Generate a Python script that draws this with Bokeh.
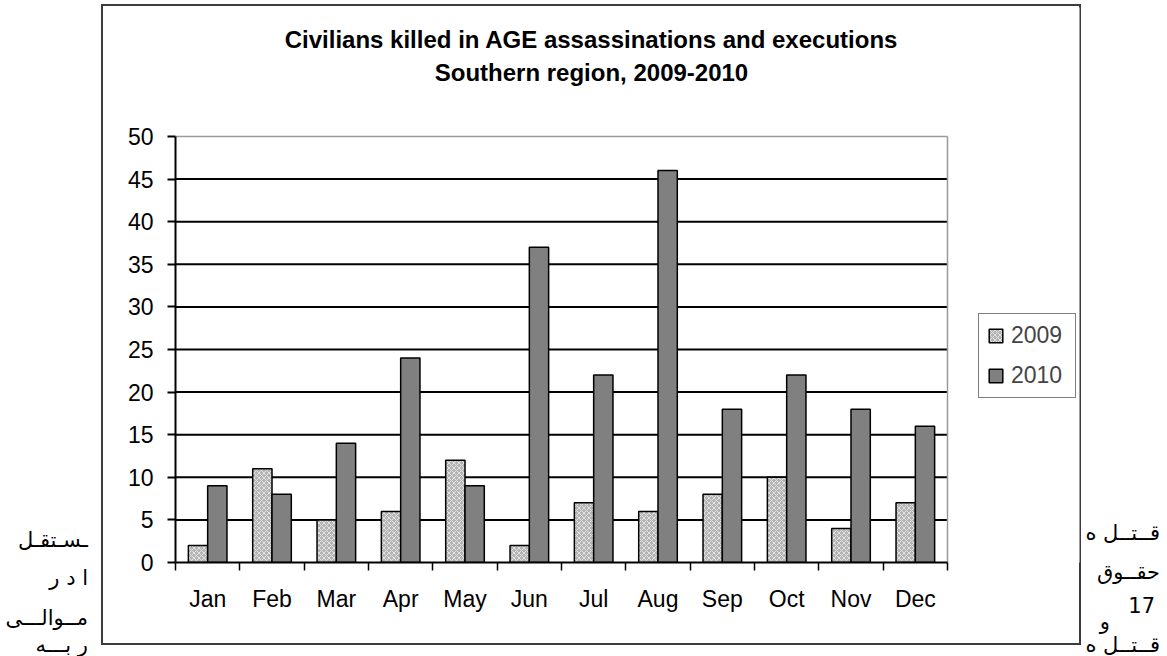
from bokeh.plotting import figure
from bokeh.layouts import row
from bokeh.models import (Range1d, FixedTicker, Legend, LegendItem,
                          ColumnDataSource, Label, Div)
from bokeh.embed import file_html
from bokeh.resources import INLINE

# ---- data -------------------------------------------------------------
months = ["Jan", "Feb", "Mar", "Apr", "May", "Jun",
          "Jul", "Aug", "Sep", "Oct", "Nov", "Dec"]
killed_2009 = [2, 11, 5, 6, 12, 2, 7, 6, 8, 10, 4, 7]
killed_2010 = [9, 8, 14, 24, 9, 37, 22, 46, 18, 22, 18, 16]
y_ticks = [0, 5, 10, 15, 20, 25, 30, 35, 40, 45, 50]
series_names = ["2009", "2010"]
title_lines = ["Civilians killed in AGE assassinations and executions",
               "Southern region, 2009-2010"]

# surrounding Persian text lines (left and right margins of the page)
side_text_left = ["ـسـتقـل", "ا   د  ر", "مــوالـــى", "ر  بـــه"]
side_text_right = ["قــتــل ه", "حقــوق", "17", "و", "قــتــل ه"]

# ---- page geometry (pixels) -------------------------------------------------------
PAGE_W, PAGE_H = 1167, 656
BOX_L, BOX_R, BOX_T, BOX_B = 101, 1081, 5, 644          # chart box on the page
P_LEFT, P_RIGHT, P_TOP, P_BOTTOM = 175, 947, 136, 562    # value area (0..12, 0..50)
FR_RIGHT, FR_TOP = BOX_R - 2, BOX_T + 2                  # drawing frame inside the box

n = len(months)
y_max = y_ticks[-1]
sx = (P_RIGHT - P_LEFT) / n
sy = (P_BOTTOM - P_TOP) / y_max


def px_x(px):
    return (px - P_LEFT) / sx


def px_y(py):
    return (P_BOTTOM - py) / sy


FONT = "Liberation Sans"
FS = "23px"
EDGE = "#3c3c3c"
PLOT_EDGE = "#9a9a9a"

# chart box drawn as CSS backgrounds behind a transparent canvas border
fig_w = BOX_R - BOX_L
box_css = {
    "background-image": ", ".join([f"linear-gradient({EDGE}, {EDGE})"] * 4),
    "background-position": (f"0px {BOX_T - 1}px, 0px {BOX_B - 1}px, "
                            f"0px {BOX_T - 1}px, {fig_w - 2}px {BOX_T - 1}px"),
    "background-size": (f"{fig_w}px 2px, {fig_w}px 2px, "
                        f"2px {BOX_B - BOX_T + 2}px, 2px {BOX_B - BOX_T + 2}px"),
    "background-repeat": "no-repeat",
    "background-color": "white",
}

# the frame spans the whole chart box; the value area 0..12 x 0..50 sits inside it
p = figure(width=fig_w, height=PAGE_H, title=None,
           x_range=Range1d(0, px_x(FR_RIGHT)), y_range=Range1d(0, px_y(FR_TOP)),
           output_backend="svg", toolbar_location=None,
           min_border_left=P_LEFT - BOX_L, min_border_right=BOX_R - FR_RIGHT,
           min_border_top=FR_TOP, min_border_bottom=PAGE_H - P_BOTTOM,
           background_fill_color="white", border_fill_alpha=0,
           outline_line_color=None, margin=0, styles=box_css)

# ---- grid lines and plot-area edge ------------------------------------------------------
grid_y = y_ticks[1:-1]
p.segment(x0=[0] * len(grid_y), x1=[n] * len(grid_y), y0=grid_y, y1=grid_y,
          line_color="black", line_width=2)
p.segment(x0=[0, n], x1=[n, n], y0=[y_max, 0], y1=[y_max, y_max],
          line_color=PLOT_EDGE, line_width=1.5)

# ---- bars -----------------------------------------------------------------
bar_w = 0.3
centers = [i + 0.5 for i in range(n)]
src09 = ColumnDataSource(dict(x=[c - bar_w / 2 for c in centers], top=killed_2009))
src10 = ColumnDataSource(dict(x=[c + bar_w / 2 for c in centers], top=killed_2010))

r09 = p.vbar(x="x", top="top", bottom=0, width=bar_w, source=src09,
             fill_color="#b4b4b4", line_color="black", line_width=1.5,
             hatch_pattern="diagonal_cross", hatch_color="white",
             hatch_alpha=0.6, hatch_scale=5, hatch_weight=1)
r10 = p.vbar(x="x", top="top", bottom=0, width=bar_w, source=src10,
             fill_color="#808080", line_color="black", line_width=1.5)

# ---- axes ---------------------------------------------------------------------------
xa = p.xaxis[0]
xa.bounds = (0, n)
xa.ticker = FixedTicker(ticks=centers, minor_ticks=list(range(n + 1)))
xa.major_label_overrides = {c: m for c, m in zip(centers, months)}
xa.major_tick_line_color = None
xa.major_tick_out = 0
xa.major_tick_in = 0
xa.minor_tick_out = 8
xa.minor_tick_in = 0
xa.minor_tick_line_color = "black"
xa.minor_tick_line_width = 1.5
xa.axis_line_color = "black"
xa.axis_line_width = 2
xa.major_label_text_font = FONT
xa.major_label_text_font_size = FS
xa.major_label_text_color = "black"
xa.major_label_standoff = 15

ya = p.yaxis[0]
ya.bounds = (0, y_max)
ya.ticker = FixedTicker(ticks=y_ticks, minor_ticks=[])
ya.major_tick_out = 8
ya.major_tick_in = 0
ya.major_tick_line_color = "black"
ya.major_tick_line_width = 2
ya.minor_tick_line_color = None
ya.axis_line_color = "black"
ya.axis_line_width = 2
ya.major_label_text_font = FONT
ya.major_label_text_font_size = FS
ya.major_label_text_color = "black"
ya.major_label_standoff = 14

p.xgrid.visible = False
p.ygrid.visible = False

# ---- legend --------------------------------------------------------------------------
legend = Legend(items=[LegendItem(label=series_names[0], renderers=[r09]),
                       LegendItem(label=series_names[1], renderers=[r10])],
                location=(978 - P_LEFT, P_BOTTOM - 398), margin=0,
                glyph_width=17, glyph_height=17, label_standoff=7,
                label_text_font=FONT, label_text_font_size=FS, label_width=56,
                padding=8, spacing=13,
                border_line_color="black", border_line_width=1.5,
                background_fill_color="white", background_fill_alpha=1)
p.add_layout(legend)

# ---- two-line title ---------------------------------------------------------------------
for line, py in zip(title_lines, [38.5, 71.5]):
    p.add_layout(Label(x=px_x(591), y=px_y(py), text=line,
                       text_font=FONT, text_font_size="24px",
                       text_font_style="bold", text_color="black",
                       text_align="center", text_baseline="middle"))


# ---- page text beside the chart -------------------------------------------------
def side_div(width, lines, anchors):
    spans = []
    for txt, (right_edge, cy) in zip(lines, anchors):
        spans.append(
            f'<div style="position:absolute;right:{width - right_edge}px;'
            f'top:{cy - 13}px;line-height:26px;font-family:\'DejaVu Sans\';'
            f'font-size:21px;color:#000;direction:rtl;white-space:nowrap">'
            f'{txt}</div>')
    html = (f'<div style="position:relative;width:{width}px;height:{PAGE_H}px;'
            f'overflow:hidden">' + "".join(spans) + "</div>")
    return Div(text=html, width=width, height=PAGE_H, margin=0)


left_div = side_div(BOX_L, side_text_left,
                    [(88, 540), (88, 578), (88, 618), (88, 645)])
right_div = side_div(PAGE_W - BOX_R, side_text_right,
                     [(x - BOX_R, y) for x, y in
                      [(1160, 533), (1160, 572), (1155, 606), (1110, 622), (1160, 645)]])

page = row(left_div, p, right_div, spacing=0)
open("out.html", "w").write(file_html(page, INLINE))
